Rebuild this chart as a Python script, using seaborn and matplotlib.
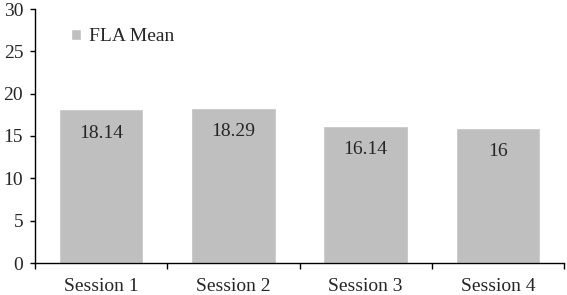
import seaborn as sns
import matplotlib.pyplot as plt
import numpy as np

sessions = ["Session 1", "Session 2", "Session 3", "Session 4"]
fla_mean = [18.14, 18.29, 16.14, 16]
y_ticks = [0, 5, 10, 15, 20, 25, 30]

sns.set_style("ticks")
plt.rcParams['font.family'] = ['Liberation Serif', 'DejaVu Serif']
plt.rcParams['font.size'] = 14

fig = plt.figure(figsize=(5.67, 2.95), dpi=100)
ax = fig.add_axes([35 / 567, 32 / 295, 529 / 567, 254 / 295])

sns.barplot(x=sessions, y=fla_mean, color="#bfbfbf", saturation=1,
            width=0.64, label="FLA Mean", ax=ax)

for i, v in enumerate(fla_mean):
    ax.annotate(f"{v:g}", xy=(i, v), xytext=(0, -17), textcoords="offset points",
                ha="center", va="center", fontsize=14)

ax.set_ylim(0, 30)
ax.set_yticks(y_ticks)
ax.set_xlim(-0.5, len(sessions) - 0.5)
ax.set_xticks(np.arange(len(sessions)))
ax.set_xticklabels(sessions)
ax.set_xticks(np.arange(len(sessions) + 1) - 0.5, minor=True)
ax.tick_params(axis="x", which="major", length=0, pad=11, labelsize=14)
ax.tick_params(axis="x", which="minor", length=4.5, width=1, color="black", direction="out")
ax.tick_params(axis="y", length=3.5, width=1, color="black", direction="out", pad=5, labelsize=14)
ax.set_xlabel("")
ax.set_ylabel("")

for s in ["left", "bottom"]:
    ax.spines[s].set_linewidth(1)
    ax.spines[s].set_color("black")
sns.despine(ax=ax)

ax.legend(loc="center left", bbox_to_anchor=(0.068, 0.89), frameon=False,
          handlelength=0.5, handleheight=0.55, handletextpad=0.45,
          borderpad=0, borderaxespad=0, fontsize=14)

fig.savefig("out.png", dpi=100)
